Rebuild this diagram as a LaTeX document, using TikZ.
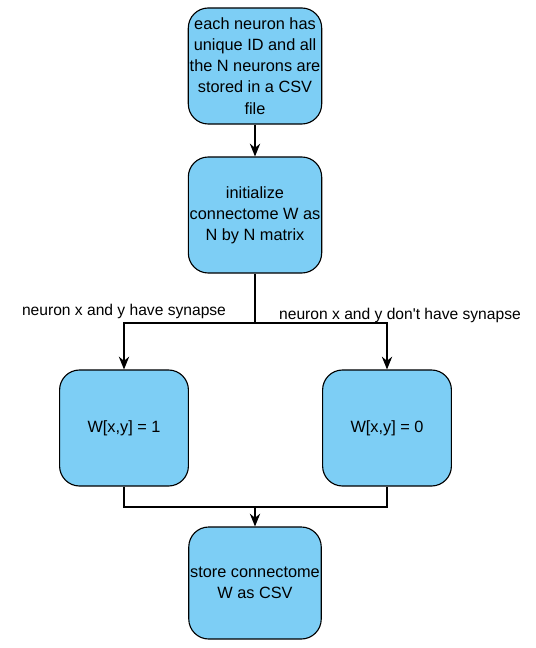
\documentclass[tikz,border=0pt]{standalone}
\usepackage{fontspec}
\setmainfont{Liberation Sans}
\usetikzlibrary{arrows.meta, positioning}
\definecolor{boxblue}{RGB}{125,206,245}

\tikzset{
    stepbox/.style={draw=black, thick, fill=boxblue, rounded corners=0.5cm,
        minimum width=3.22cm, minimum height=2.9cm, inner sep=1pt,
        align=center, font=\fontsize{11.6}{15}\selectfont},
    flow/.style={thick, -{Stealth[length=3.2mm, width=2.6mm]}},
    branch/.style={font=\fontsize{11.1}{14}\selectfont}
}

\begin{document}
\begin{tikzpicture}[x=0.025cm, y=-0.025cm]
    \useasboundingbox (0,0) rectangle (536,648);

    % boxes
    \node[stepbox] (ids) at (255,66)
        {each neuron has\\unique ID and all\\the N neurons are\\stored in a CSV\\file};
    \node[stepbox] (init) at (255,215)
        {initialize\\connectome W as\\N by N matrix};
    \node[stepbox] (one) at (124,428) {W[x,y] = 1};
    \node[stepbox] (zero) at (387,428) {W[x,y] = 0};
    \node[stepbox, minimum height=2.8cm] (store) at (255,583)
        {store connectome\\W as CSV};

    % branch labels
    \node[branch] (yes) at (124,311) {neuron x and y have synapse};
    \node[branch] (no) at (400,315) {neuron x and y don\textquotesingle t have synapse};

    % connectors
    \coordinate (split) at (255,323);
    \coordinate (merge) at (255,507);
    \draw[flow] (ids) -- (init);
    \draw[thick] (init) -- (split);
    \draw[flow] (split) -| (one);
    \draw[flow] (split) -| (zero);
    \draw[thick] (one.south) |- (merge);
    \draw[thick] (zero.south) |- (merge);
    \draw[flow] (merge) -- (store);
\end{tikzpicture}
\end{document}
